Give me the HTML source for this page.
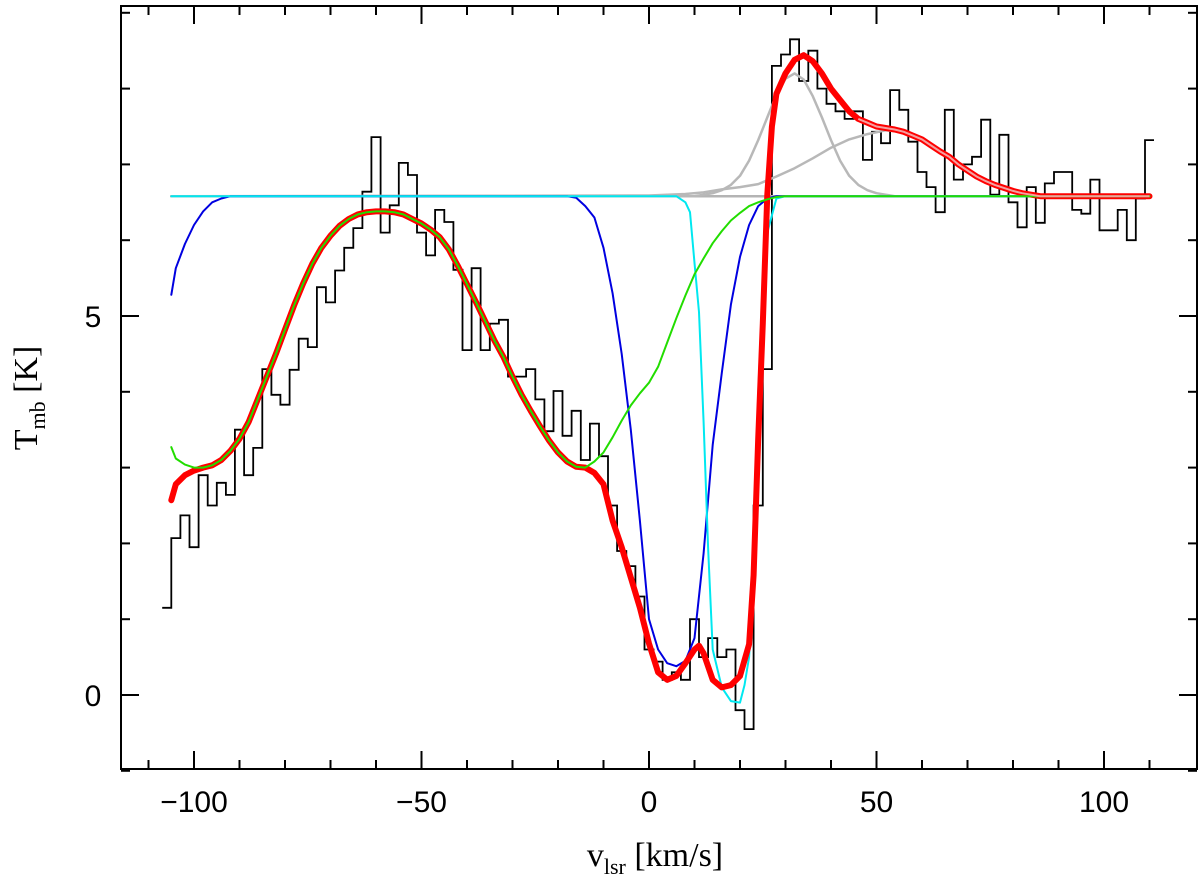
<!DOCTYPE html>
<html><head><meta charset="utf-8"><style>
html,body{margin:0;padding:0;background:#fff;}
svg{display:block;}
text{font-family:"Liberation Sans",sans-serif;}
</style></head><body>
<svg id="chart" width="1200" height="879" viewBox="0 0 1200 879" xmlns="http://www.w3.org/2000/svg">
<g id="series"></g>
<rect x="121" y="6" width="1076" height="763" fill="none" stroke="#000" stroke-width="2"/>
<g id="ticks"></g>
<text x="655" y="866" text-anchor="middle" font-size="34" style="font-family:'Liberation Serif',serif">v<tspan font-size="22" dy="8">lsr</tspan><tspan dy="-8">  [km/s]</tspan></text>
<text transform="translate(37,398) rotate(-90)" text-anchor="middle" font-size="34" style="font-family:'Liberation Serif',serif">T<tspan font-size="22" dy="8">mb</tspan><tspan dy="-8">  [K]</tspan></text>
</svg>
<script>
// ---- data ----
const spectrumV0 = -106, spectrumDV = 2;
const spectrumT = [1.15,2.07,2.37,1.95,2.9,2.5,2.8,2.64,3.5,2.9,3.26,4.3,3.96,3.83,4.29,4.7,4.59,5.38,5.18,5.6,5.9,6.16,6.64,7.36,6.1,6.46,7.02,6.86,6.1,5.8,6.4,6.24,5.61,4.55,5.63,4.55,4.9,4.95,4.2,4.2,4.3,3.9,3.48,4.01,3.42,3.75,3.1,3.58,3.15,2.5,1.9,1.7,1.3,0.6,0.44,0.2,0.3,0.2,1.0,0.5,0.75,0.5,0.6,-0.2,-0.45,2.5,4.3,8.3,8.45,8.65,8.1,8.5,8.0,7.8,7.7,7.6,7.7,7.06,7.43,7.28,7.98,7.72,7.3,6.9,6.7,6.37,7.72,6.8,7.0,7.1,7.59,6.6,7.39,6.5,6.17,6.7,6.23,6.75,6.9,6.9,6.4,6.35,6.8,6.13,6.13,6.4,6.0,6.55,7.32];
const baselineV = [-105,110];
const baselineT = [6.58,6.58];
const blueV = [-105,-104,-102,-100,-98,-96,-94,-92,-18,-16,-14,-12,-10,-8,-6,-4,-2,0,2,4,6,8,10,12,14,16,18,20,22,24,26,28,110];
const blueT = [5.28,5.63,5.95,6.2,6.38,6.5,6.55,6.58,6.58,6.56,6.45,6.3,5.9,5.3,4.5,3.5,2.3,1.0,0.6,0.42,0.38,0.45,0.75,1.87,3.3,4.25,5.15,5.78,6.2,6.45,6.55,6.58,6.58];
const cyanV = [-105,6,8,9,10,11,12,13,14,16,18,20,21,22,23,24,25,26,28,30,110];
const cyanT = [6.58,6.58,6.5,6.37,5.7,5.05,3.6,1.94,0.6,0.1,-0.08,-0.1,0.13,0.5,1.58,3.97,5.4,6.1,6.55,6.58,6.58];
const greenV = [-105,-104,-102,-100,-98,-96,-94,-92,-90,-88,-86,-84,-82,-80,-78,-76,-74,-72,-70,-68,-66,-64,-62,-60,-58,-56,-54,-52,-50,-48,-46,-44,-42,-40,-38,-36,-34,-32,-30,-28,-26,-24,-22,-20,-18,-16,-14,-12,-10,-8,-6,-4,-2,0,2,4,6,8,10,12,14,16,18,20,22,24,26,28,30,110];
const greenT = [3.27,3.12,3.04,3.0,3.0,3.03,3.1,3.22,3.38,3.6,3.9,4.2,4.5,4.82,5.14,5.43,5.69,5.9,6.06,6.19,6.28,6.34,6.37,6.38,6.38,6.37,6.34,6.28,6.22,6.14,6.04,5.88,5.66,5.42,5.18,4.93,4.68,4.46,4.2,3.96,3.75,3.55,3.36,3.2,3.08,3.01,3.0,3.08,3.2,3.4,3.62,3.82,3.98,4.12,4.33,4.65,4.97,5.27,5.55,5.76,5.96,6.12,6.26,6.36,6.45,6.5,6.54,6.57,6.58,6.58];
const redV = [-105,-104,-102,-100,-98,-96,-94,-92,-90,-88,-86,-84,-82,-80,-78,-76,-74,-72,-70,-68,-66,-64,-62,-60,-58,-56,-54,-52,-50,-48,-46,-44,-42,-40,-38,-36,-34,-32,-30,-28,-26,-24,-22,-20,-18,-16,-14,-12,-10,-8,-6,-4,-2,0,2,4,6,8,10,11,12,14,16,18,20,22,23,24,25,26,27,28,30,32,34,36,38,40,42,44,46,48,50,52,54,56,58,60,62,64,66,68,70,72,74,76,78,80,82,84,86,110];
const redT = [2.57,2.78,2.9,2.96,3.0,3.03,3.1,3.22,3.38,3.6,3.9,4.2,4.5,4.82,5.14,5.43,5.69,5.9,6.06,6.19,6.28,6.34,6.37,6.38,6.38,6.37,6.34,6.28,6.22,6.14,6.04,5.88,5.66,5.42,5.18,4.93,4.68,4.46,4.2,3.96,3.75,3.55,3.36,3.2,3.08,3.01,3.0,2.93,2.78,2.3,1.95,1.55,1.15,0.68,0.3,0.2,0.25,0.42,0.6,0.65,0.55,0.2,0.1,0.13,0.25,0.67,1.58,3.38,4.9,6.6,7.5,7.93,8.2,8.38,8.44,8.36,8.2,8.0,7.85,7.7,7.6,7.55,7.5,7.48,7.46,7.43,7.38,7.33,7.25,7.17,7.1,7.0,6.92,6.84,6.78,6.73,6.69,6.65,6.62,6.6,6.58,6.58];
const grey1V = [-105,10,12,14,16,18,20,22,24,26,28,30,32,34,36,38,40,42,44,46,48,50,52,54,110];
const grey1T = [6.58,6.58,6.6,6.62,6.66,6.73,6.85,7.05,7.32,7.62,7.92,8.13,8.2,8.12,7.9,7.62,7.32,7.05,6.85,6.73,6.66,6.62,6.6,6.58,6.58];
const grey2V = [-105,0,4,8,12,16,20,24,28,32,36,40,44,48,52,56,60,64,68,72,76,80,84,88,110];
const grey2T = [6.58,6.59,6.6,6.61,6.63,6.67,6.7,6.74,6.84,6.95,7.08,7.22,7.33,7.4,7.45,7.43,7.33,7.17,7.0,6.84,6.73,6.65,6.6,6.58,6.58];
const xMajor = [-100,-50,0,50,100];
const xMajorLabels = ["\u2212100","\u221250","0","50","100"];
const yMajor = [0,5];
const yMajorLabels = ["0","5"];

// ---- axes ----
const X0 = 649, XS = 4.55, Y0 = 695, YS = 75.8;
function xs(v){ return X0 + v*XS; }
function ys(t){ return Y0 - t*YS; }
const NS = "http://www.w3.org/2000/svg";
const series = document.getElementById('series');
const ticks = document.getElementById('ticks');
function mk(tag, attrs, parent){
  const e = document.createElementNS(NS, tag);
  for (const k in attrs) e.setAttribute(k, attrs[k]);
  parent.appendChild(e); return e;
}
function linePath(V, T){
  return V.map((v,i)=>(i?'L':'M')+xs(v).toFixed(1)+','+ys(T[i]).toFixed(1)).join(' ');
}
let d = '';
spectrumT.forEach((t,i)=>{
  const v = spectrumV0 + i*spectrumDV;
  const a = xs(v - spectrumDV/2), b = xs(v + spectrumDV/2), y = ys(t);
  d += (i ? 'L' : 'M') + a.toFixed(1) + ',' + y.toFixed(1) + ' L' + b.toFixed(1) + ',' + y.toFixed(1) + ' ';
});
const spec = mk('path', {d:d, fill:'none', stroke:'#000', 'stroke-width':'1.8'}, series);



const defs = [
  ['baseline-line', baselineV, baselineT, '#b4b4b4', 2.5],
  ['grey-gaussian-1', grey1V, grey1T, '#b8b8b8', 2.5],
  ['grey-gaussian-2', grey2V, grey2T, '#b8b8b8', 2.5],
  ['blue-absorption', blueV, blueT, '#0000e0', 2],
  ['cyan-absorption', cyanV, cyanT, '#00e8f0', 2],
  ['red-total-fit', redV, redT, '#ff0000', 6],
  ['green-component', greenV, greenT, '#22dd00', 2],
];
defs.forEach(s=>{
  const p = mk('path', {d:linePath(s[1], s[2]), fill:'none', stroke:s[3], 'stroke-width':s[4], 'stroke-linejoin':'round', 'stroke-linecap':'round'}, series);
  
  
});
const pi = redV.findIndex(v=>v>=46);
const pink = mk('path', {d:linePath(redV.slice(pi), redT.slice(pi)), fill:'none', stroke:'#f4a0a0', 'stroke-width':'2'}, series);



for (let v = -110; v <= 110; v += 10){
  const major = v % 50 === 0, L = major ? 18 : 9, x = xs(v);
  const t1 = mk('line', {x1:x, x2:x, y1:769, y2:769-L, stroke:'#000', 'stroke-width':'2'}, ticks);
  
  
  const t2 = mk('line', {x1:x, x2:x, y1:6, y2:6+L, stroke:'#000', 'stroke-width':'2'}, ticks);
  
  
}
xMajor.forEach((v,i)=>{
  const t = mk('text', {x:xs(v), y:812, 'text-anchor':'middle', 'font-size':'30'}, ticks);
  t.textContent = xMajorLabels[i];
  
  
});
for (let k = -1; k <= 9; k++){
  const major = k % 5 === 0, L = major ? 18 : 9, y = ys(k);
  const t1 = mk('line', {x1:121, x2:121+L, y1:y, y2:y, stroke:'#000', 'stroke-width':'2'}, ticks);
  
  
  const t2 = mk('line', {x1:1197, x2:1197-L, y1:y, y2:y, stroke:'#000', 'stroke-width':'2'}, ticks);
  
  
}
yMajor.forEach((k,i)=>{
  const t = mk('text', {x:93, y:ys(k)+11, 'text-anchor':'middle', 'font-size':'30'}, ticks);
  t.textContent = yMajorLabels[i];
  
  
});
</script>
</body></html>
